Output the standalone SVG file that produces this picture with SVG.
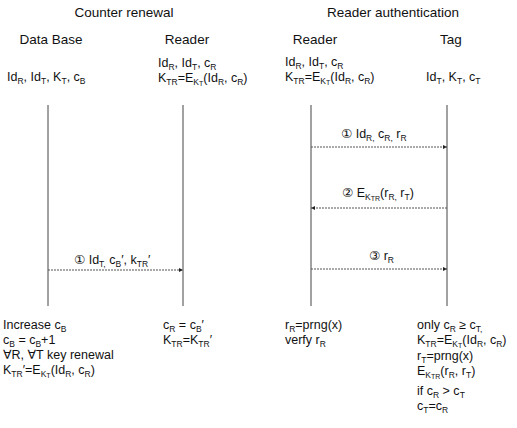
<svg xmlns="http://www.w3.org/2000/svg" width="517" height="428" viewBox="0 0 517 428">
<style>
text{font-family:"Liberation Sans","DejaVu Sans","Noto Sans CJK KR",sans-serif;font-size:12.5px;fill:#111}
.h{font-size:13.5px}
.s{font-size:8.5px}
.ss{font-size:7px}
.life{stroke:#444;stroke-width:1;fill:none}
.msg{stroke:#555;stroke-width:1;stroke-dasharray:2 1;fill:none}
</style>
<defs>
<marker id="ah" viewBox="0 0 6 6" refX="6" refY="3" markerWidth="4" markerHeight="4" orient="auto" markerUnits="userSpaceOnUse">
<path d="M0,0 L6,3 L0,6 z" fill="#222"/>
</marker>
</defs>

<text class="h" x="124" y="17" text-anchor="middle">Counter renewal</text>
<text class="h" x="393" y="17" text-anchor="middle">Reader authentication</text>

<g id="db">
<text class="h" x="51" y="44" text-anchor="middle">Data Base</text>
<text x="7" y="81">Id<tspan class="s" dy="3">R</tspan><tspan dy="-3">, Id</tspan><tspan class="s" dy="3">T</tspan><tspan dy="-3">, K</tspan><tspan class="s" dy="3">T</tspan><tspan dy="-3">, c</tspan><tspan class="s" dy="3">B</tspan></text>
<line class="life" x1="48" y1="105" x2="48" y2="306"/>
<text x="3" y="329">Increase c<tspan class="s" dy="3">B</tspan></text>
<text x="3" y="344">c<tspan class="s" dy="3">B</tspan><tspan dy="-3"> = c</tspan><tspan class="s" dy="3">B</tspan><tspan dy="-3">+1</tspan></text>
<text x="3" y="359">∀R, ∀T key renewal</text>
<text x="3" y="374">K<tspan class="s" dy="3">TR</tspan><tspan dy="-3">′=E</tspan><tspan class="s" dy="2.5">K</tspan><tspan class="ss" dy="1.5">T</tspan><tspan dy="-4">(Id</tspan><tspan class="s" dy="3">R</tspan><tspan dy="-3">, c</tspan><tspan class="s" dy="3">R</tspan><tspan dy="-3">)</tspan></text>
</g>

<g id="reader1">
<text class="h" x="187" y="44" text-anchor="middle">Reader</text>
<text x="158" y="67">Id<tspan class="s" dy="3">R</tspan><tspan dy="-3">, Id</tspan><tspan class="s" dy="3">T</tspan><tspan dy="-3">, c</tspan><tspan class="s" dy="3">R</tspan></text>
<text x="158" y="82">K<tspan class="s" dy="3">TR</tspan><tspan dy="-3">=E</tspan><tspan class="s" dy="2.5">K</tspan><tspan class="ss" dy="1.5">T</tspan><tspan dy="-4">(Id</tspan><tspan class="s" dy="3">R</tspan><tspan dy="-3">, c</tspan><tspan class="s" dy="3">R</tspan><tspan dy="-3">)</tspan></text>
<line class="life" x1="183" y1="105" x2="183" y2="306"/>
<text x="163" y="329">c<tspan class="s" dy="3">R</tspan><tspan dy="-3"> = c</tspan><tspan class="s" dy="3">B</tspan><tspan dy="-3">′</tspan></text>
<text x="163" y="344">K<tspan class="s" dy="3">TR</tspan><tspan dy="-3">=K</tspan><tspan class="s" dy="3">TR</tspan><tspan dy="-3">′</tspan></text>
</g>

<g id="reader2">
<text class="h" x="315" y="44" text-anchor="middle">Reader</text>
<text x="285" y="66">Id<tspan class="s" dy="3">R</tspan><tspan dy="-3">, Id</tspan><tspan class="s" dy="3">T</tspan><tspan dy="-3">, c</tspan><tspan class="s" dy="3">R</tspan></text>
<text x="285" y="81">K<tspan class="s" dy="3">TR</tspan><tspan dy="-3">=E</tspan><tspan class="s" dy="2.5">K</tspan><tspan class="ss" dy="1.5">T</tspan><tspan dy="-4">(Id</tspan><tspan class="s" dy="3">R</tspan><tspan dy="-3">, c</tspan><tspan class="s" dy="3">R</tspan><tspan dy="-3">)</tspan></text>
<line class="life" x1="311" y1="105" x2="311" y2="306"/>
<text x="285" y="329">r<tspan class="s" dy="3">R</tspan><tspan dy="-3">=prng(x)</tspan></text>
<text x="285" y="344">verfy r<tspan class="s" dy="3">R</tspan></text>
</g>

<g id="tag">
<text class="h" x="451" y="44" text-anchor="middle">Tag</text>
<text x="426" y="81">Id<tspan class="s" dy="3">T</tspan><tspan dy="-3">, K</tspan><tspan class="s" dy="3">T</tspan><tspan dy="-3">, c</tspan><tspan class="s" dy="3">T</tspan></text>
<line class="life" x1="447" y1="105" x2="447" y2="306"/>
<text x="417" y="329">only c<tspan class="s" dy="3">R</tspan><tspan dy="-3"> ≥ c</tspan><tspan class="s" dy="3">T,</tspan></text>
<text x="417" y="344">K<tspan class="s" dy="3">TR</tspan><tspan dy="-3">=E</tspan><tspan class="s" dy="2.5">K</tspan><tspan class="ss" dy="1.5">T</tspan><tspan dy="-4">(Id</tspan><tspan class="s" dy="3">R</tspan><tspan dy="-3">, c</tspan><tspan class="s" dy="3">R</tspan><tspan dy="-3">)</tspan></text>
<text x="417" y="360">r<tspan class="s" dy="3">T</tspan><tspan dy="-3">=prng(x)</tspan></text>
<text x="417" y="375">E<tspan class="s" dy="2.5">K</tspan><tspan class="ss" dy="1.5">TR</tspan><tspan dy="-4">(r</tspan><tspan class="s" dy="3">R</tspan><tspan dy="-3">, r</tspan><tspan class="s" dy="3">T</tspan><tspan dy="-3">)</tspan></text>
<text x="417" y="395">if c<tspan class="s" dy="3">R</tspan><tspan dy="-3"> &gt; c</tspan><tspan class="s" dy="3">T</tspan></text>
<text x="417" y="410">c<tspan class="s" dy="3">T</tspan><tspan dy="-3">=c</tspan><tspan class="s" dy="3">R</tspan></text>
</g>

<g id="connectors">
<line class="msg" x1="48" y1="270" x2="183" y2="270" marker-end="url(#ah)"/>
<text x="74" y="264">① Id<tspan class="s" dy="3">T,</tspan><tspan dy="-3"> c</tspan><tspan class="s" dy="3">B</tspan><tspan dy="-3">′, k</tspan><tspan class="s" dy="3">TR</tspan><tspan dy="-3">′</tspan></text>
<line class="msg" x1="311" y1="147" x2="447" y2="147" marker-end="url(#ah)"/>
<text x="341" y="138">① Id<tspan class="s" dy="3">R,</tspan><tspan dy="-3"> c</tspan><tspan class="s" dy="3">R,</tspan><tspan dy="-3"> r</tspan><tspan class="s" dy="3">R</tspan></text>
<line class="msg" x1="447" y1="208" x2="311" y2="208" marker-end="url(#ah)"/>
<text x="342" y="197">② E<tspan class="s" dy="2.5">K</tspan><tspan class="ss" dy="1.5">TR</tspan><tspan dy="-4">(r</tspan><tspan class="s" dy="3">R,</tspan><tspan dy="-3"> r</tspan><tspan class="s" dy="3">T</tspan><tspan dy="-3">)</tspan></text>
<line class="msg" x1="311" y1="269" x2="447" y2="269" marker-end="url(#ah)"/>
<text x="369" y="260">③ r<tspan class="s" dy="3">R</tspan></text>
</g>
</svg>
